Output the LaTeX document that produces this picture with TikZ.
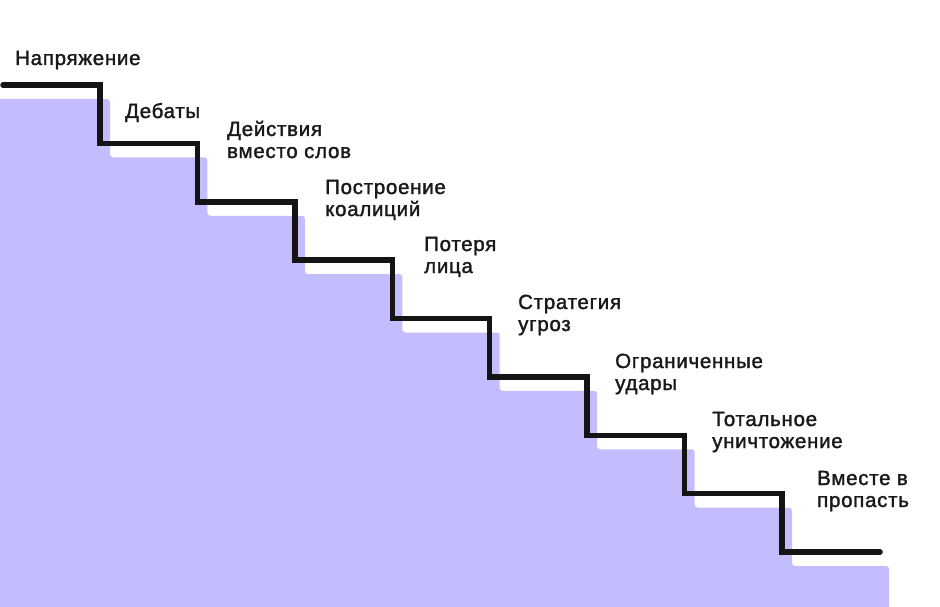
\documentclass[tikz,border=0pt]{standalone}
\usepackage{fontspec}
\newfontfamily\labfont{Liberation Sans}[FakeBold=1.6,LetterSpace=3.5]
\definecolor{stairfill}{RGB}{196,189,253}
\definecolor{inkline}{RGB}{20,20,20}
\definecolor{inktext}{RGB}{25,25,25}
\tikzset{
  lab/.style={anchor=base west, inner sep=0pt, align=left, text=inktext,
    font=\labfont\fontsize{20.5}{22}\selectfont},
  stairline/.style={draw=inkline, line width=5.5pt, line cap=round, line join=miter},
  stairarea/.style={fill=stairfill, rounded corners=3pt}
}
\begin{document}
\begin{tikzpicture}[x=1pt,y=-1pt]
\useasboundingbox (0,0) rectangle (940,607);
% lavender area
\path[stairarea] (-10,620) -- (-10,99) -- (110,99) -- (110,157.4) -- (207.4,157.4)
  -- (207.4,215.8) -- (304.9,215.8) -- (304.9,274.1) -- (402.3,274.1)
  -- (402.3,332.5) -- (499.7,332.5) -- (499.7,390.9) -- (597.1,390.9)
  -- (597.1,449.3) -- (694.6,449.3) -- (694.6,507.6) -- (792,507.6)
  -- (792,566) -- (889,566) -- (889,620) -- cycle;
% black staircase
\draw[stairline] (3,85) -- (100,85) -- (100,143.4) -- (197.4,143.4) -- (197.4,201.8)
  -- (294.9,201.8) -- (294.9,260.1) -- (392.3,260.1) -- (392.3,318.5)
  -- (489.7,318.5) -- (489.7,376.9) -- (587.1,376.9) -- (587.1,435.3)
  -- (684.6,435.3) -- (684.6,493.6) -- (782,493.6) -- (782,552) -- (880,552);
% labels
\node[lab] (l0) at (15,65) {Напряжение};
\node[lab] (l1) at (125,118) {Дебаты};
\node[lab] (l2) at (227,158) {Действия\\вместо слов};
\node[lab] (l3) at (325,216) {Построение\\коалиций};
\node[lab] (l4) at (424,273) {Потеря\\лица};
\node[lab] (l5) at (518,331) {Стратегия\\угроз};
\node[lab] (l6) at (615,390) {Ограниченные\\удары};
\node[lab] (l7) at (712,448) {Тотальное\\уничтожение};
\node[lab] (l8) at (817,507) {Вместе в\\пропасть};
\end{tikzpicture}
\end{document}
